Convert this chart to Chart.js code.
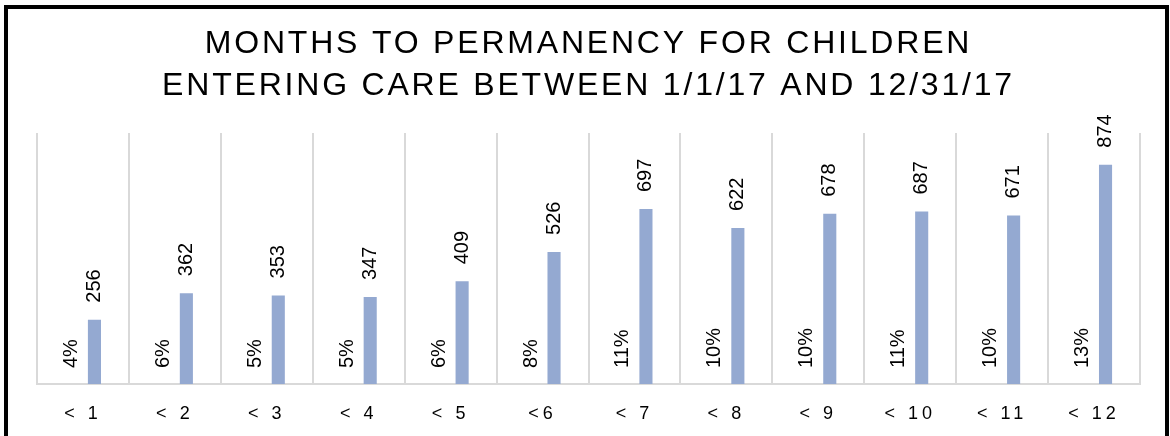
<!DOCTYPE html>
<html>
<head>
<meta charset="utf-8">
<script src="https://cdn.jsdelivr.net/npm/chart.js@4/dist/chart.umd.min.js"></script>
<style>
  html, body { margin: 0; padding: 0; background: #fff; overflow: hidden; }
  #wrap { position: relative; width: 1170px; height: 436px; }
  #frame {
    position: absolute; left: 4px; top: 5px;
    width: 1157px; height: 520px;
    border: 4px solid #000; pointer-events: none;
  }
</style>
</head>
<body>
<div id="wrap">
  <canvas id="chart" width="1170" height="436"></canvas>
  <div id="frame"></div>
</div>
<script>
// --- Data ---
const categories = ["< 1", "< 2", "< 3", "< 4", "< 5", "<6", "< 7", "< 8", "< 9", "< 10", "< 11", "< 12"];
const childCounts = [256, 362, 353, 347, 409, 526, 697, 622, 678, 687, 671, 874];
const percentOfTotal = [4, 6, 5, 5, 6, 8, 11, 10, 10, 11, 10, 13];
const titleLines = ["MONTHS TO PERMANENCY FOR CHILDREN", "ENTERING CARE BETWEEN 1/1/17 AND 12/31/17"];

// spaced-out title (drawn before datasets) and axis labels (drawn after, z=1)
const letterSpacing = {
  id: "letterSpacing",
  beforeDraw(chart) { chart.ctx.letterSpacing = "2.8px"; },
  beforeDatasetsDraw(chart) { chart.ctx.letterSpacing = "0px"; },
  afterDatasetsDraw(chart) { chart.ctx.letterSpacing = "4px"; }
};

// vertical value labels: counts above each bar, percents at the base
const barLabels = {
  id: "barLabels",
  afterDatasetsDraw(chart) {
    const ctx = chart.ctx;
    ctx.save();
    ctx.letterSpacing = "0px";
    ctx.font = "20px 'Liberation Sans', Arial, sans-serif";
    ctx.fillStyle = "#000";
    ctx.textAlign = "left";
    ctx.textBaseline = "middle";
    chart.data.datasets.forEach((ds, i) => {
      const meta = chart.getDatasetMeta(i);
      meta.data.forEach((bar, j) => {
        const text = ds.label === "Percent" ? ds.data[j] + "%" : String(ds.data[j]);
        const y = ds.label === "Percent" ? bar.base - 16 : bar.y - 17;
        ctx.save();
        ctx.translate(bar.x, y);
        ctx.rotate(-Math.PI / 2);
        ctx.fillText(text, 0, 0);
        ctx.restore();
      });
    });
    ctx.restore();
  }
};

const ctx = document.getElementById("chart").getContext("2d");
new Chart(ctx, {
  type: "bar",
  data: {
    labels: categories,
    datasets: [
      {
        label: "Percent",
        data: percentOfTotal,
        yAxisID: "yPct",
        backgroundColor: "rgba(0,0,0,0)",
        categoryPercentage: 0.5,
        barPercentage: 0.57
      },
      {
        label: "Children",
        data: childCounts,
        yAxisID: "y",
        backgroundColor: "#94a9d1",
        categoryPercentage: 0.5,
        barPercentage: 0.57
      }
    ]
  },
  options: {
    responsive: false,
    animation: false,
    layout: { padding: { top: 0, left: 37, right: 30, bottom: 0 } },
    plugins: {
      legend: { display: false },
      tooltip: { enabled: false },
      title: {
        display: true,
        text: titleLines,
        color: "#000",
        font: { family: "'Liberation Sans', Arial, sans-serif", size: 32, weight: "normal", lineHeight: 1.3125 },
        padding: { top: 23, bottom: 26 }
      }
    },
    scales: {
      x: {
        afterFit: (scale) => { scale.height = 52; },
        grid: { display: true, offset: true, color: "#d9d9d9", lineWidth: 2, drawTicks: false },
        border: { display: true, color: "#d9d9d9", width: 2 },
        ticks: {
          z: 1,
          color: "#000",
          padding: 19,
          font: { family: "'Liberation Sans', Arial, sans-serif", size: 18 }
        }
      },
      y: { display: false, min: 0, max: 1000 },
      yPct: { display: false, min: 0, max: 100 }
    }
  },
  plugins: [letterSpacing, barLabels]
});
</script>
</body>
</html>
